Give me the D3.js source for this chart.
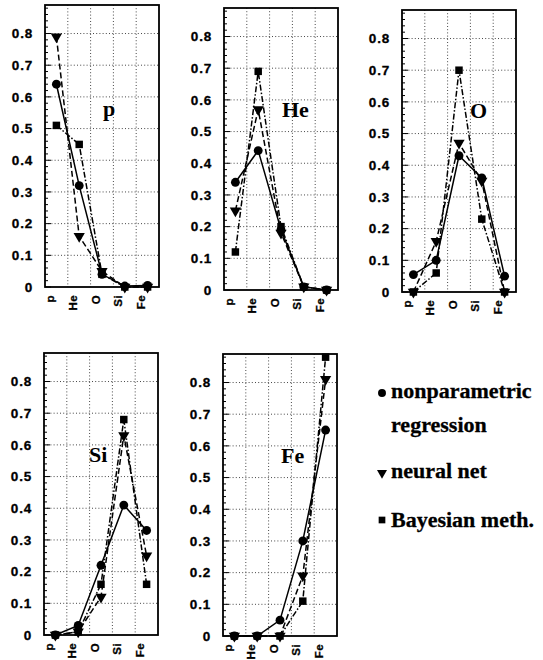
<!DOCTYPE html>
<html>
<head>
<meta charset="utf-8">
<script src="https://cdn.jsdelivr.net/npm/d3@7"></script>
<style>
  body { margin: 0; background: #fff; }
  svg { display: block; }
</style>
</head>
<body>
<script>
    // categories on the x axis of every panel
    var elements = ["p", "He", "O", "Si", "Fe"];
    // one panel per true primary
    var panelNames = ["p", "He", "O", "Si", "Fe"];
    var yTicks = [0, 0.1, 0.2, 0.3, 0.4, 0.5, 0.6, 0.7, 0.8];

    // rows follow panelNames, columns follow elements
    var nonparametric = [
        [0.64, 0.32, 0.04, 0.003, 0.005],
        [0.34, 0.44, 0.19, 0.01, 0.0],
        [0.055, 0.10, 0.43, 0.36, 0.05],
        [0.0, 0.03, 0.22, 0.41, 0.33],
        [0.0, 0.0, 0.05, 0.30, 0.65]
    ];
    var neuralNet = [
        [0.79, 0.16, 0.05, 0.0, 0.0],
        [0.25, 0.57, 0.18, 0.01, 0.0],
        [0.0, 0.16, 0.47, 0.35, 0.0],
        [0.0, 0.01, 0.12, 0.63, 0.25],
        [0.0, 0.0, 0.0, 0.19, 0.81]
    ];
    var bayesian = [
        [0.51, 0.45, 0.04, 0.0, 0.0],
        [0.12, 0.69, 0.20, 0.01, 0.0],
        [0.0, 0.06, 0.70, 0.23, 0.0],
        [0.0, 0.01, 0.16, 0.68, 0.16],
        [0.0, 0.0, 0.0, 0.11, 0.88]
    ];
    var legendLabels = [["nonparametric", "regression"], ["neural net"], ["Bayesian meth."]];

    var W = 543, H = 660;
    var svg = d3.select("body").append("svg").attr("width", W).attr("height", H);

    /* frame boxes of the five panels (left, top of frame) */
    var boxes = [
        { x: 45, y: 5 }, { x: 224, y: 8 }, { x: 402, y: 10 },
        { x: 44, y: 353 }, { x: 223, y: 354 }
    ];
    var pw = 114, ph = 282;

    var series = [
        { data: nonparametric, dash: null, symbol: d3.symbolCircle, size: 62, rot: 0 },
        { data: neuralNet, dash: "6,3", symbol: d3.symbolTriangle, size: 55, rot: 180 },
        { data: bayesian, dash: "6,2,1.5,2", symbol: d3.symbolSquare, size: 56, rot: 0 }
    ];

    var x = d3.scaleBand().domain(elements).range([0, pw]).padding(0);
    var y = d3.scaleLinear().domain([0, 0.89]).range([ph, 0]);
    var yMinor = d3.range(0, 0.89, 0.02);

    panelNames.forEach(function (name, i) {
        var g = svg.append("g").attr("transform", "translate(" + boxes[i].x + "," + boxes[i].y + ")");

        /* dotted grid */
        g.selectAll("line.hgrid").data(yTicks.slice(1)).enter().append("line")
            .attr("x1", 0).attr("x2", pw)
            .attr("y1", function (d) { return y(d); }).attr("y2", function (d) { return y(d); })
            .attr("stroke", "#333").attr("stroke-width", 0.9).attr("stroke-dasharray", "1,2.2");
        g.selectAll("line.vgrid").data(elements.slice(1)).enter().append("line")
            .attr("x1", function (d) { return x(d); }).attr("x2", function (d) { return x(d); })
            .attr("y1", 0).attr("y2", ph)
            .attr("stroke", "#333").attr("stroke-width", 0.9).attr("stroke-dasharray", "1,2.2");

        /* minor ticks inside the left edge */
        g.selectAll("line.mt").data(yMinor).enter().append("line")
            .attr("x1", 0)
            .attr("x2", function (d) { return Math.abs(d * 10 - Math.round(d * 10)) < 1e-6 ? 6 : 3; })
            .attr("y1", function (d) { return y(d); }).attr("y2", function (d) { return y(d); })
            .attr("stroke", "#000").attr("stroke-width", 1);

        /* y axis labels */
        var ya = g.append("g").call(d3.axisLeft(y).tickValues(yTicks).tickSize(0).tickPadding(12)
            .tickFormat(function (d) { return d === 0 ? "0" : d3.format(".1f")(d); }));
        ya.select(".domain").remove();
        ya.selectAll("text").attr("font-family", "Liberation Sans, Arial, sans-serif")
            .attr("font-weight", "bold").attr("font-size", 13.5).attr("letter-spacing", 0.8)
            .attr("fill", "#000").attr("stroke", "#000").attr("stroke-width", 0.3);

        /* x labels, rotated */
        g.selectAll("text.xl").data(elements).enter().append("text")
            .attr("transform", function (d) {
                return "translate(" + (x(d) + x.bandwidth() / 2 - 6.5) + "," + (ph + 8) + ") rotate(-90)";
            })
            .attr("dy", "0.35em").attr("text-anchor", "end")
            .attr("font-family", "Liberation Sans, Arial, sans-serif").attr("font-weight", "bold")
            .attr("font-size", 11.5).attr("letter-spacing", 0.4)
            .attr("stroke", "#000").attr("stroke-width", 0.3)
            .text(function (d) { return d; });

        /* lines and markers */
        var line = d3.line()
            .x(function (d, j) { return x(elements[j]) + x.bandwidth() / 2; })
            .y(function (d) { return y(d); });
        series.forEach(function (s) {
            var vals = s.data[i];
            g.append("path").attr("d", line(vals)).attr("fill", "none")
                .attr("stroke", "#000").attr("stroke-width", 1.5)
                .attr("stroke-dasharray", s.dash);
            g.selectAll(null).data(vals).enter().append("path")
                .attr("d", d3.symbol().type(s.symbol).size(s.size))
                .attr("transform", function (d, j) {
                    return "translate(" + (x(elements[j]) + x.bandwidth() / 2) + "," + y(d) + ") rotate(" + s.rot + ")";
                })
                .attr("fill", "#000");
        });

        /* frame */
        g.append("rect").attr("x", 0).attr("y", 0).attr("width", pw).attr("height", ph)
            .attr("fill", "none").attr("stroke", "#000").attr("stroke-width", 1.8);
    });

    /* panel titles */
    var titlePos = [[103, 116], [282, 117], [470, 118], [89, 462], [281, 463]];
    svg.selectAll("text.title").data(panelNames).enter().append("text")
        .attr("x", function (d, i) { return titlePos[i][0]; })
        .attr("y", function (d, i) { return titlePos[i][1]; })
        .attr("font-family", "Liberation Serif, Times New Roman, serif").attr("font-weight", "bold")
        .attr("font-size", 22).text(function (d) { return d; });

    /* legend */
    var legendY = [393, 473, 520];
    var textY = [[398, 432], [478], [527]];
    series.forEach(function (s, k) {
        svg.append("path")
            .attr("d", d3.symbol().type(s.symbol).size(s.size * 0.8))
            .attr("transform", "translate(382," + legendY[k] + ") rotate(" + s.rot + ")");
        legendLabels[k].forEach(function (t, m) {
            svg.append("text").attr("x", 391).attr("y", textY[k][m])
                .attr("font-family", "Liberation Serif, Times New Roman, serif").attr("font-weight", "bold")
                .attr("font-size", 22).attr("stroke", "#000").attr("stroke-width", 0.3).text(t);
        });
    });
</script>
</body>
</html>
